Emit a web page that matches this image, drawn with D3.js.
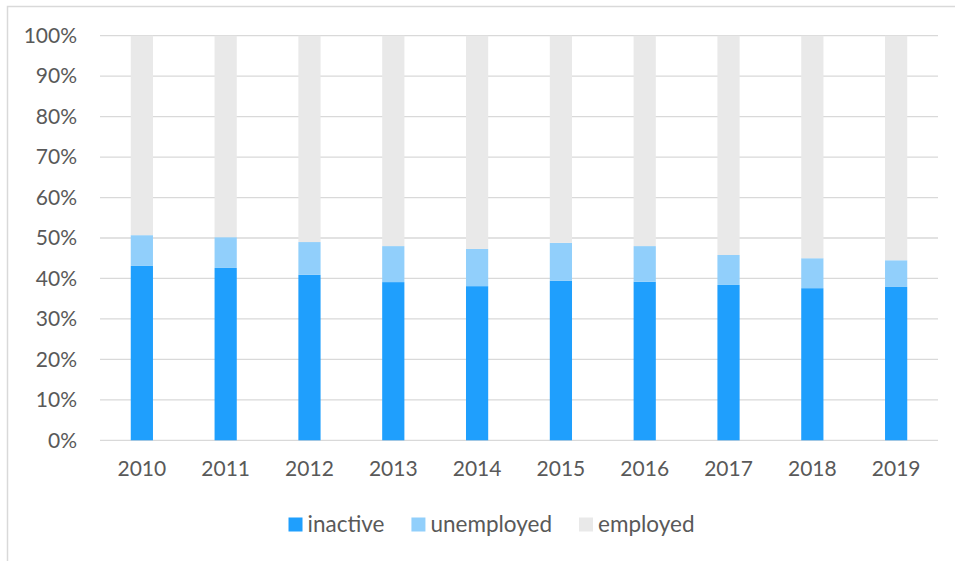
<!DOCTYPE html>
<html>
<head>
<meta charset="utf-8">
<script src="https://cdn.jsdelivr.net/npm/d3@7"></script>
<style>
  html, body { margin: 0; padding: 0; background: #fff; }
  svg { display: block; }
  text { font-family: Lato, "Open Sans", sans-serif; fill: #595959; }
</style>
</head>
<body>
<svg id="chart" width="955" height="561"></svg>
<script>
// Share of population by labour-market status, per year (percent)
const years = ["2010", "2011", "2012", "2013", "2014", "2015", "2016", "2017", "2018", "2019"];
const inactive   = [43.1, 42.6, 40.9, 39.1, 38.1, 39.4, 39.2, 38.4, 37.6, 37.9];
const unemployed = [7.6, 7.6, 8.1, 8.9, 9.2, 9.4, 8.8, 7.4, 7.4, 6.6];
const employed   = inactive.map((v, i) => +(100 - v - unemployed[i]).toFixed(1));
const yTicks = [0, 10, 20, 30, 40, 50, 60, 70, 80, 90, 100];

const seriesKeys = ["inactive", "unemployed", "employed"];
const colors = { inactive: "#1f9ffd", unemployed: "#91cffb", employed: "#e9e9e9" };

const rows = years.map((y, i) => ({
  year: y, inactive: inactive[i], unemployed: unemployed[i], employed: employed[i]
}));

const svg = d3.select("#chart");
const margin = { left: 100, right: 17, top: 35.7, bottom: 120.7 };
const W = 955, H = 561;

// chart frame
svg.append("path")
  .attr("d", `M7.5,${H + 2} V6.5 H${W + 2}`)
  .attr("fill", "none").attr("stroke", "#d9d9d9").attr("stroke-width", 1.5);

const x = d3.scaleBand().domain(years)
  .range([margin.left, W - margin.right])
  .paddingInner(0.735).paddingOuter(0.367);
const y = d3.scaleLinear().domain([0, 100]).range([H - margin.bottom, margin.top]);

// gridlines
svg.append("g").selectAll("line").data(yTicks).join("line")
  .attr("x1", margin.left).attr("x2", W - margin.right)
  .attr("y1", d => y(d)).attr("y2", d => y(d))
  .attr("stroke", "#d9d9d9").attr("stroke-width", 1.3);

// stacked bars
const stack = d3.stack().keys(seriesKeys)(rows);
svg.append("g").selectAll("g").data(stack).join("g")
  .attr("fill", s => colors[s.key])
  .selectAll("rect").data(s => s).join("rect")
  .attr("x", d => x(d.data.year))
  .attr("width", x.bandwidth())
  .attr("y", d => y(d[1]))
  .attr("height", d => y(d[0]) - y(d[1]));

// y axis
const yAxis = svg.append("g")
  .attr("transform", `translate(${margin.left},0)`)
  .call(d3.axisLeft(y).tickValues(yTicks).tickFormat(d => d + "%").tickSize(0).tickPadding(23));
yAxis.select(".domain").remove();
yAxis.selectAll("text").style("font-size", "21px").attr("fill", "#595959")
  .style("font-family", "Lato, 'Open Sans', sans-serif");

// x axis
const xAxis = svg.append("g")
  .attr("transform", `translate(0,${H - margin.bottom})`)
  .call(d3.axisBottom(x).tickSize(0).tickPadding(21));
xAxis.select(".domain").remove();
xAxis.selectAll("text").style("font-size", "21px").attr("fill", "#595959")
  .style("font-family", "Lato, 'Open Sans', sans-serif");

// legend
const legend = svg.append("g");
const sw = 14, gapText = 5, gapItem = 27;
let cx = 0;
seriesKeys.forEach(k => {
  const g = legend.append("g");
  g.append("rect").attr("width", sw).attr("height", sw).attr("y", -14.5).attr("fill", colors[k]);
  const t = g.append("text").attr("x", sw + gapText).attr("y", 0)
    .style("font-size", "22.5px").text(k);
  const w = sw + gapText + t.node().getComputedTextLength();
  g.attr("transform", `translate(${cx},0)`);
  cx += w + gapItem;
});
const legendWidth = cx - gapItem;
legend.attr("transform", `translate(${491.5 - legendWidth / 2},${532})`);
</script>
</body>
</html>
